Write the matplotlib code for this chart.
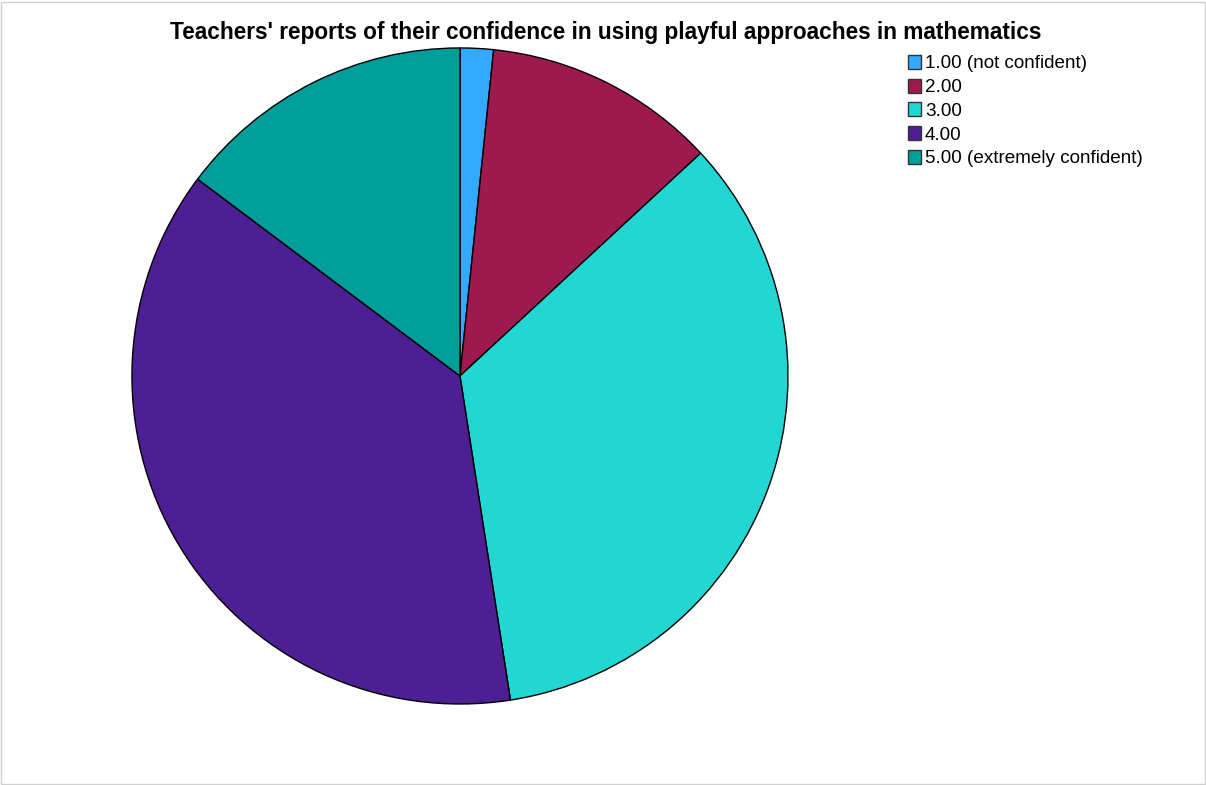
import matplotlib.pyplot as plt
from matplotlib.patches import Patch, Rectangle

plt.rcParams['font.family'] = ['Liberation Sans', 'DejaVu Sans']

labels = ["1.00 (not confident)", "2.00", "3.00", "4.00", "5.00 (extremely confident)"]
counts = [1, 7, 21, 23, 9]
colors = ["#33aaff", "#9e1a4e", "#22d6d4", "#4e1f94", "#009e9a"]

fig = plt.figure(figsize=(12.06, 7.85), dpi=100)
fig.patches.append(Rectangle((0.001, 0.001), 0.998, 0.997, transform=fig.transFigure,
                             fill=False, edgecolor="#d0d0d0", linewidth=1))

ax = fig.add_axes([0.1094, 0.1032, 0.544, 0.8357])
ax.pie(counts, colors=colors, startangle=90, counterclock=False,
       wedgeprops=dict(edgecolor="black", linewidth=1))
ax.set_xlim(-1, 1)
ax.set_ylim(-1, 1)
ax.set_aspect('equal')

fig.text(0.5025, 0.958, "Teachers' reports of their confidence in using playful approaches in mathematics",
         ha='center', va='center', fontsize=16.3, fontweight='bold')

handles = [Patch(facecolor=c, edgecolor="#333333", linewidth=1) for c in colors]
fig.legend(handles, labels, loc='upper left', bbox_to_anchor=(0.753, 0.930),
           frameon=False, fontsize=13.6, handlelength=0.7, handleheight=0.75,
           handletextpad=0.2, labelspacing=0.33, borderpad=0, borderaxespad=0)

fig.savefig("out.png", dpi=100)
